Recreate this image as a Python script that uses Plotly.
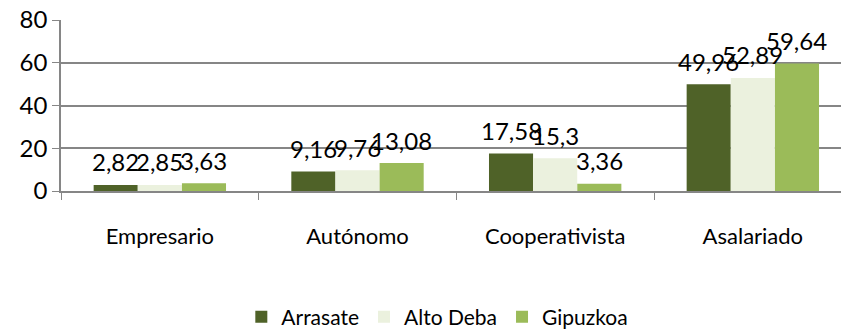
import plotly.graph_objects as go

categories = ["Empresario", "Autónomo", "Cooperativista", "Asalariado"]
series_names = ["Arrasate", "Alto Deba", "Gipuzkoa"]
arrasate = [2.82, 9.16, 17.58, 49.96]
alto_deba = [2.85, 9.76, 15.3, 52.89]
gipuzkoa = [3.63, 13.08, 3.36, 59.64]
y_ticks = [0, 20, 40, 60, 80]

colors = ["#4F6228", "#EBF1DE", "#9BBB59"]
series_values = [arrasate, alto_deba, gipuzkoa]

FONT = "Lato"
bar_w = 0.223  # width of each bar in category units

fig = go.Figure()
for name, vals, col in zip(series_names, series_values, colors):
    fig.add_trace(go.Bar(
        name=name, x=categories, y=vals, marker_color=col,
        marker_line_width=0, width=bar_w,
    ))


def fmt(v):
    s = f"{v:.2f}".rstrip("0").rstrip(".")
    return s.replace(".", ",")


annotations = []
for si, vals in enumerate(series_values):
    off = (si - 1) * bar_w
    for ci, v in enumerate(vals):
        annotations.append(dict(
            x=ci + off, y=v, xref="x", yref="y", text=fmt(v),
            showarrow=False, yanchor="middle", yshift=23,
            font=dict(family=FONT, size=24, color="#000000"),
        ))

fig.update_layout(
    width=841, height=331,
    margin=dict(l=61, r=0, t=20, b=140, autoexpand=False),
    plot_bgcolor="white", paper_bgcolor="white",
    barmode="group", bargap=0.33, bargroupgap=0,
    font=dict(family=FONT, color="#000000"),
    annotations=annotations,
    legend=dict(
        orientation="h", xref="container", yref="container",
        x=0.52, xanchor="center", y=0.042, yanchor="middle",
        font=dict(family=FONT, size=21, color="#000000"),
        itemwidth=30, traceorder="normal",
    ),
    showlegend=True,
)
fig.update_xaxes(
    range=[-0.5, 3.446], showgrid=False, showline=True,
    linecolor="#868686", linewidth=1.5, automargin=False,
    ticks="outside", tickson="boundaries", ticklen=7, tickcolor="#868686",
    tickfont=dict(family=FONT, size=22), ticklabelstandoff=25,
)
fig.update_yaxes(
    range=[0, 80], tickvals=y_ticks, showgrid=True, gridcolor="#868686",
    gridwidth=1.5, showline=True, linecolor="#868686", linewidth=1.5,
    ticks="outside", ticklen=7, tickcolor="#868686", automargin=False,
    tickfont=dict(family=FONT, size=24), zeroline=False,
)

fig.write_html("out.html")
